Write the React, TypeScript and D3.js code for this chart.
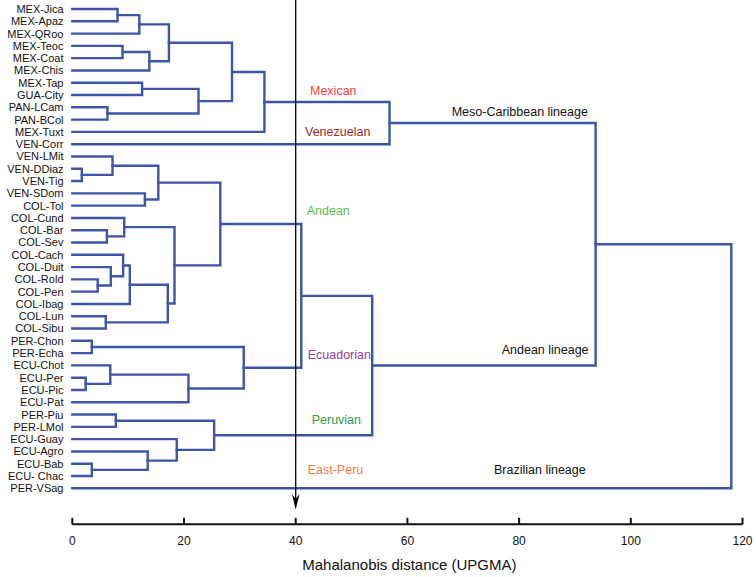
import React from "react";
import * as d3 from "d3";

const leafNames: string[] = [
  "MEX-Jica", "MEX-Apaz", "MEX-QRoo", "MEX-Teoc", "MEX-Coat", "MEX-Chis",
  "MEX-Tap", "GUA-City", "PAN-LCam", "PAN-BCol", "MEX-Tuxt", "VEN-Corr",
  "VEN-LMit", "VEN-DDiaz", "VEN-Tig", "VEN-SDom", "COL-Tol", "COL-Cund",
  "COL-Bar", "COL-Sev", "COL-Cach", "COL-Duit", "COL-Rold", "COL-Pen",
  "COL-Ibag", "COL-Lun", "COL-Sibu", "PER-Chon", "PER-Echa", "ECU-Chot",
  "ECU-Per", "ECU-Pic", "ECU-Pat", "PER-Piu", "PER-LMol", "ECU-Guay",
  "ECU-Agro", "ECU-Bab", "ECU- Chac", "PER-VSag",
];

// [node id, left child, right child, Mahalanobis distance]
const merges: [string, string, string, number][] = [
  ["n1", "VEN-DDiaz", "VEN-Tig", 1.7],
  ["n2", "ECU-Per", "ECU-Pic", 2.4],
  ["n3", "PER-Chon", "PER-Echa", 3.5],
  ["n4", "ECU-Bab", "ECU- Chac", 3.5],
  ["n5", "COL-Rold", "COL-Pen", 4.55],
  ["n6", "COL-Lun", "COL-Sibu", 6.0],
  ["n7", "COL-Bar", "COL-Sev", 6.2],
  ["n8", "PAN-LCam", "PAN-BCol", 6.3],
  ["n9", "ECU-Chot", "n2", 6.8],
  ["n10", "COL-Duit", "n5", 6.9],
  ["n11", "VEN-LMit", "n1", 7.2],
  ["n12", "PER-Piu", "PER-LMol", 7.8],
  ["n13", "MEX-Jica", "MEX-Apaz", 8.1],
  ["n14", "MEX-Teoc", "MEX-Coat", 9.0],
  ["n15", "COL-Cach", "n10", 9.1],
  ["n16", "COL-Cund", "n7", 9.3],
  ["n17", "n15", "COL-Ibag", 10.3],
  ["n18", "n13", "MEX-QRoo", 12.0],
  ["n19", "MEX-Tap", "GUA-City", 12.5],
  ["n20", "VEN-SDom", "COL-Tol", 13.0],
  ["n21", "ECU-Agro", "n4", 13.5],
  ["n22", "n14", "MEX-Chis", 13.8],
  ["n23", "n11", "n20", 15.4],
  ["n24", "n17", "n6", 17.1],
  ["n25", "n18", "n22", 17.3],
  ["n26", "n16", "n24", 18.3],
  ["n27", "ECU-Guay", "n21", 18.7],
  ["n28", "n9", "ECU-Pat", 20.8],
  ["n29", "n19", "n8", 22.6],
  ["n30", "n12", "n27", 25.4],
  ["n31", "n23", "n26", 26.5],
  ["n32", "n25", "n29", 28.6],
  ["n33", "n3", "n28", 30.7],
  ["n34", "n32", "MEX-Tuxt", 34.4],
  ["n35", "n31", "n33", 41.0],
  ["n36", "n35", "n30", 53.7],
  ["n37", "n34", "VEN-Corr", 56.8],
  ["n38", "n37", "n36", 93.7],
  ["n39", "n38", "PER-VSag", 118.0],
];

const axisTicks: number[] = [0, 20, 40, 60, 80, 100, 120];
const cutOff = 40;

const W = 756;
const H = 577;
const FONT = "'Liberation Sans', Arial, sans-serif";
const BLUE = "#3c55a6";

export default function App() {
  const x = d3.scaleLinear().domain([0, 120]).range([72.3, 742.5]);
  const y = d3.scaleLinear().domain([0, leafNames.length - 1]).range([9, 488.3]);

  const pos: Record<string, { y: number; h: number }> = {};
  leafNames.forEach((n, i) => (pos[n] = { y: y(i), h: 0 }));
  merges.forEach(([id, a, b, h]) => {
    pos[id] = { y: (pos[a].y + pos[b].y) / 2, h };
  });

  const paths = merges.map(([id, a, b, h]) => {
    const pa = pos[a];
    const pb = pos[b];
    return `M${x(pa.h)},${pa.y}H${x(h)}V${pb.y}H${x(pb.h)}`;
  });

  const axisY = 524.3;
  const ax = x(cutOff);

  const notes = [
    { t: "Mexican", c: "#ff3a3a", x: 310, y: 90.7 },
    { t: "Venezuelan", c: "#9c2b2b", x: 305, y: 131.7 },
    { t: "Meso-Caribbean lineage", c: "#111", x: 451.7, y: 111.7 },
    { t: "Andean", c: "#5cbd3a", x: 306.7, y: 210.7 },
    { t: "Ecuadorian", c: "#963c96", x: 307.7, y: 354 },
    { t: "Andean lineage", c: "#111", x: 501.7, y: 349 },
    { t: "Peruvian", c: "#2c9c48", x: 311.7, y: 419.3 },
    { t: "East-Peru", c: "#f47a40", x: 307.7, y: 469.3 },
    { t: "Brazilian lineage", c: "#111", x: 494, y: 469.3 },
  ];

  return (
    <svg
      width={W}
      height={H}
      viewBox={`0 0 ${W} ${H}`}
      style={{ position: "absolute", left: 0, top: 0, background: "#fff" }}
      fontFamily={FONT}
    >
      <rect x={0} y={0} width={W} height={H} fill="#fff" />
      {/* leaf labels */}
      {leafNames.map((n, i) => (
        <text key={n} x={63.5} y={y(i)} dy="0.36em" textAnchor="end" fontSize={11} fill="#111">
          {n}
        </text>
      ))}
      {/* dendrogram */}
      <g fill="none" stroke={BLUE} strokeWidth={2.4} strokeLinejoin="miter" strokeLinecap="square">
        {paths.map((d, i) => (
          <path key={i} d={d} />
        ))}
      </g>
      {/* cut-off arrow */}
      <line x1={ax} x2={ax} y1={0} y2={500} stroke="#000" strokeWidth={1.3} />
      <polygon
        points={`${ax},509.5 ${ax - 3.8},494 ${ax},499 ${ax + 3.8},494`}
        fill="#000"
      />
      {/* annotations */}
      {notes.map((n) => (
        <text key={n.t} x={n.x} y={n.y} dy="0.36em" fontSize={12.5} fill={n.c}>
          {n.t}
        </text>
      ))}
      {/* axis */}
      <line x1={x(0)} x2={x(120)} y1={axisY} y2={axisY} stroke="#111" strokeWidth={2} />
      {axisTicks.map((t) => (
        <g key={t}>
          <line x1={x(t)} x2={x(t)} y1={axisY - 6.5} y2={axisY} stroke="#111" strokeWidth={2} />
          <text x={x(t)} y={541} dy="0.36em" textAnchor="middle" fontSize={12} fill="#111">
            {t}
          </text>
        </g>
      ))}
      <text x={x(60) + 2} y={565} dy="0.36em" textAnchor="middle" fontSize={15} fill="#111">
        Mahalanobis distance (UPGMA)
      </text>
    </svg>
  );
}
